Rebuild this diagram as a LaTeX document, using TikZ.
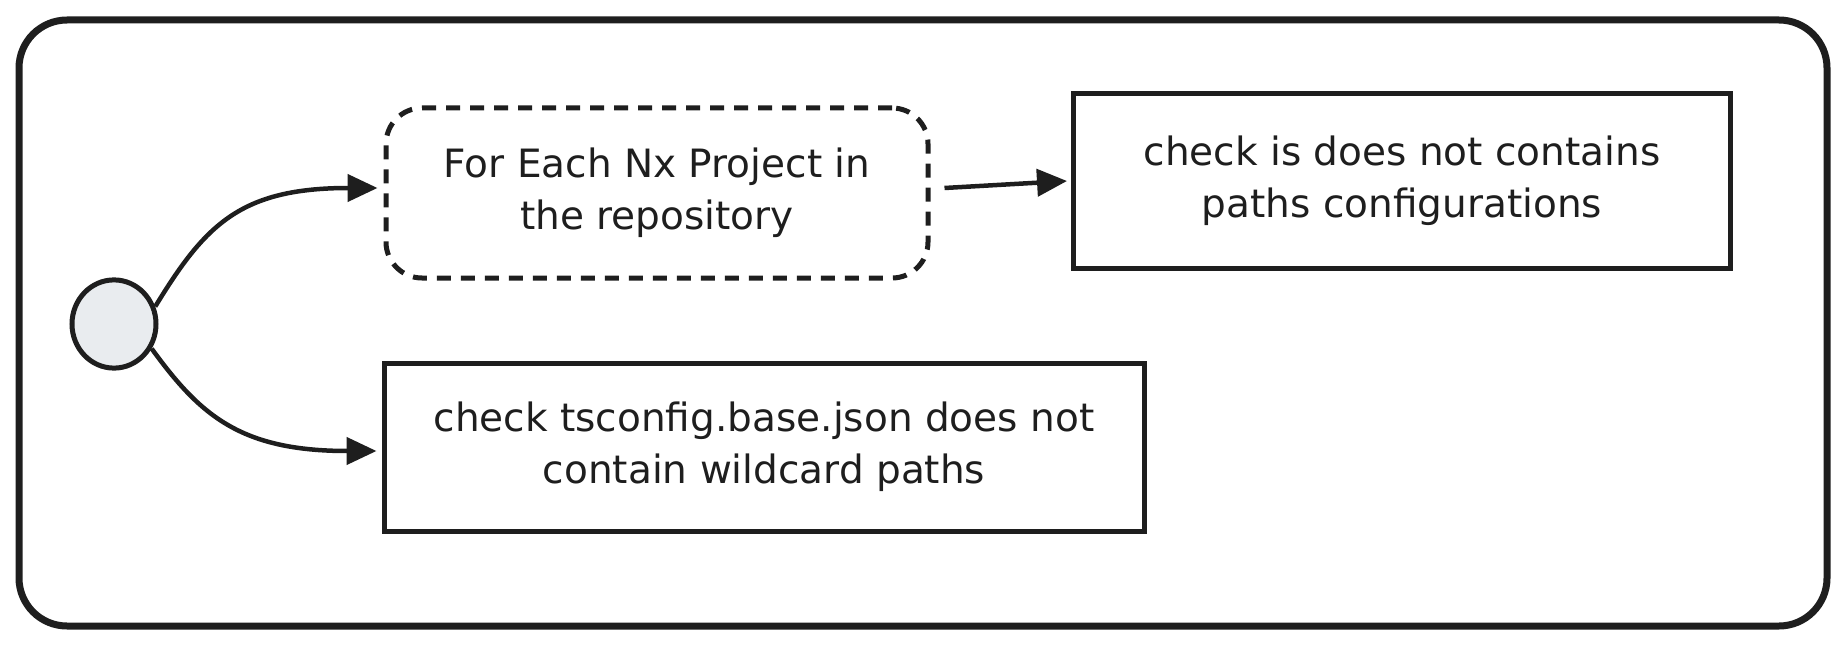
\documentclass[tikz,border=0pt]{standalone}
\usepackage{fontspec}
\setmainfont{DejaVu Sans}
\usetikzlibrary{arrows.meta}
\definecolor{ink}{HTML}{1E1E1E}
\definecolor{circfill}{HTML}{E9ECEF}
\begin{document}
\begin{tikzpicture}[x=1pt,y=-1pt,
  txt/.style={text=ink,font=\fontsize{39}{52}\selectfont,align=center},
  plainbox/.style={draw=ink,line width=5pt,txt,inner sep=0pt},
  dashbox/.style={draw=ink,line width=5pt,txt,inner sep=0pt,rounded corners=36pt,dash pattern=on 14pt off 10pt},
  startdot/.style={circle,draw=ink,fill=circfill,line width=5pt,minimum size=84pt,inner sep=0pt},
  arr/.style={draw=ink,line width=4.5pt,-{Triangle[length=30pt,width=27pt]}}]
\useasboundingbox (0,0) rectangle (1846,647);
\draw[ink,line width=7pt,rounded corners=48pt] (19,20) rectangle (1827,626);
\node[startdot,yscale=1.05] (start) at (114,324) {};
\node[dashbox,minimum width=542pt,minimum height=170pt] (each) at (657,193) {For Each Nx Project in\\the repository};
\node[plainbox,minimum width=657pt,minimum height=174pt] (paths) at (1402,181) {check is does not contains\\paths configurations};
\node[plainbox,minimum width=760pt,minimum height=168pt] (base) at (764,447) {check tsconfig.base.json does not\\contain wildcard paths};
\draw[arr] (start.22) .. controls (205,225) and (240,188) .. ([xshift=-6pt,yshift=5pt]each.west);
\draw[arr] (start.-32) .. controls (200,415) and (240,451) .. ([xshift=-5pt,yshift=-4pt]base.west);
\draw[arr] ([xshift=14pt,yshift=5pt]each.east) -- ([xshift=-4pt]paths.west);
\end{tikzpicture}
\end{document}
